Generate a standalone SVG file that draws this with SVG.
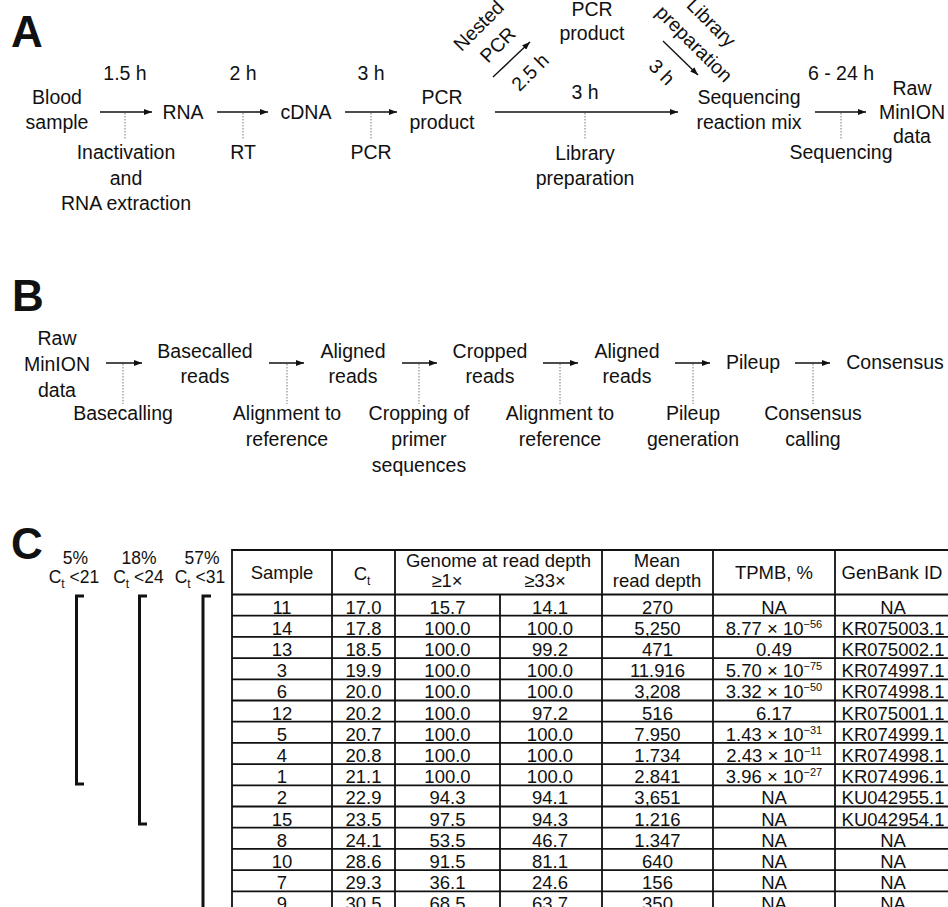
<svg xmlns="http://www.w3.org/2000/svg" width="948" height="907" viewBox="0 0 948 907">
<defs>
<marker id="ah" markerUnits="userSpaceOnUse" markerWidth="8" markerHeight="6" refX="8" refY="3" orient="auto">
<path d="M0,0 L8,3 L0,6 z" fill="#111"/>
</marker>
<style>
text{font-family:"Liberation Sans",Arial,sans-serif;fill:#111}
.t{font-size:19.5px;text-anchor:middle}
.c{font-size:18.5px;text-anchor:middle}
.bl{font-size:17.5px;text-anchor:middle}
.sup{font-size:11px}
.sub{font-size:12px}
.big{font-size:44px;font-weight:bold}
.arr{stroke:#111;stroke-width:1.4;fill:none;marker-end:url(#ah)}
.dot{stroke:#777;stroke-width:1;stroke-dasharray:1.5 1.5;fill:none}
.grid{stroke:#111;stroke-width:1.8;fill:none}
.br{stroke:#111;stroke-width:3;fill:none}
</style>
</defs>
<rect width="948" height="907" fill="#fff"/>

<!-- Panel labels -->
<text class="big" x="11" y="47">A</text>
<text class="big" x="12" y="311">B</text>
<text class="big" x="11" y="559">C</text>

<!-- ===== Panel A ===== -->
<g id="a-blood"><text class="t" x="57" y="104">Blood</text><text class="t" x="57" y="129">sample</text></g>
<g id="a-rna"><text class="t" x="183" y="119">RNA</text></g>
<g id="a-cdna"><text class="t" x="306" y="119">cDNA</text></g>
<g id="a-pcr"><text class="t" x="442" y="104">PCR</text><text class="t" x="442" y="129">product</text></g>
<g id="a-pcr2"><text class="t" x="592" y="16">PCR</text><text class="t" x="592" y="40">product</text></g>
<g id="a-seqmix"><text class="t" x="749" y="104">Sequencing</text><text class="t" x="749" y="129">reaction mix</text></g>
<g id="a-raw"><text class="t" x="912" y="95">Raw</text><text class="t" x="912" y="119">MinION</text><text class="t" x="912" y="143">data</text></g>

<g id="connectors-a">
<line class="arr" x1="100" y1="112" x2="152" y2="112"/>
<line class="dot" x1="125" y1="113" x2="125" y2="140"/>
<line class="arr" x1="217" y1="112" x2="268" y2="112"/>
<line class="dot" x1="243" y1="113" x2="243" y2="140"/>
<line class="arr" x1="345" y1="112" x2="397" y2="112"/>
<line class="dot" x1="371" y1="113" x2="371" y2="140"/>
<line class="arr" x1="495" y1="112" x2="678" y2="112"/>
<line class="dot" x1="585" y1="113" x2="585" y2="140"/>
<line class="arr" x1="493" y1="77" x2="530" y2="42"/>
<line class="arr" x1="663" y1="41" x2="698" y2="75"/>
<line class="arr" x1="815" y1="112" x2="866" y2="112"/>
<line class="dot" x1="841" y1="113" x2="841" y2="140"/>
</g>

<g id="a-labels">
<text class="t" x="125" y="80">1.5 h</text>
<text class="t" x="126" y="159">Inactivation</text>
<text class="t" x="126" y="185">and</text>
<text class="t" x="126" y="210">RNA extraction</text>
<text class="t" x="243" y="80">2 h</text>
<text class="t" x="243" y="159">RT</text>
<text class="t" x="371" y="80">3 h</text>
<text class="t" x="371" y="159">PCR</text>
<text class="t" x="585" y="99">3 h</text>
<text class="t" x="585" y="160">Library</text>
<text class="t" x="585" y="185">preparation</text>
<g transform="translate(488,35) rotate(-45)"><text class="t" x="0" y="-6.5">Nested</text><text class="t" x="0" y="20.5">PCR</text></g>
<g transform="translate(530,72) rotate(-45)"><text class="t" x="0" y="7">2.5 h</text></g>
<g transform="translate(703,33) rotate(45)"><text class="t" x="-1.4" y="-6.5">Library</text><text class="t" x="1.4" y="20.5">preparation</text></g>
<g transform="translate(662,72) rotate(45)"><text class="t" x="0" y="7">3 h</text></g>
<text class="t" x="841" y="80">6 - 24 h</text>
<text class="t" x="841" y="159">Sequencing</text>
</g>

<!-- ===== Panel B ===== -->
<g id="b-raw"><text class="t" x="57" y="345">Raw</text><text class="t" x="57" y="371">MinION</text><text class="t" x="57" y="397">data</text></g>
<g id="b-basecalled"><text class="t" x="205" y="358">Basecalled</text><text class="t" x="205" y="383">reads</text></g>
<g id="b-aligned1"><text class="t" x="353" y="358">Aligned</text><text class="t" x="353" y="383">reads</text></g>
<g id="b-cropped"><text class="t" x="490" y="358">Cropped</text><text class="t" x="490" y="383">reads</text></g>
<g id="b-aligned2"><text class="t" x="627" y="358">Aligned</text><text class="t" x="627" y="383">reads</text></g>
<g id="b-pileup"><text class="t" x="753" y="369">Pileup</text></g>
<g id="b-consensus"><text class="t" x="895" y="369">Consensus</text></g>

<g id="connectors-b">
<line class="arr" x1="106" y1="363" x2="142" y2="363"/>
<line class="dot" x1="123" y1="364" x2="123" y2="404"/>
<line class="arr" x1="269" y1="363" x2="304" y2="363"/>
<line class="dot" x1="287" y1="364" x2="287" y2="404"/>
<line class="arr" x1="402" y1="363" x2="437" y2="363"/>
<line class="dot" x1="419" y1="364" x2="419" y2="404"/>
<line class="arr" x1="543" y1="363" x2="578" y2="363"/>
<line class="dot" x1="560" y1="364" x2="560" y2="404"/>
<line class="arr" x1="675" y1="363" x2="710" y2="363"/>
<line class="dot" x1="693" y1="364" x2="693" y2="404"/>
<line class="arr" x1="795" y1="363" x2="830" y2="363"/>
<line class="dot" x1="813" y1="364" x2="813" y2="404"/>
</g>

<g id="b-labels">
<text class="t" x="123" y="420">Basecalling</text>
<text class="t" x="287" y="420">Alignment to</text>
<text class="t" x="287" y="446">reference</text>
<text class="t" x="419" y="420">Cropping of</text>
<text class="t" x="419" y="446">primer</text>
<text class="t" x="419" y="472">sequences</text>
<text class="t" x="560" y="420">Alignment to</text>
<text class="t" x="560" y="446">reference</text>
<text class="t" x="693" y="420">Pileup</text>
<text class="t" x="693" y="446">generation</text>
<text class="t" x="813" y="420">Consensus</text>
<text class="t" x="813" y="446">calling</text>
</g>

<!-- ===== Panel C ===== -->
<g id="c-brackets">
<text class="bl" x="75.5" y="564">5%</text>
<text class="bl" x="74" y="583">C<tspan class="sub" dy="5">t</tspan><tspan dy="-5"> &lt;21</tspan></text>
<path class="br" d="M84,596 H76.5 V784 H84"/>
<text class="bl" x="139" y="564">18%</text>
<text class="bl" x="138.5" y="583">C<tspan class="sub" dy="5">t</tspan><tspan dy="-5"> &lt;24</tspan></text>
<path class="br" d="M147,596 H139.5 V824 H147"/>
<text class="bl" x="202" y="564">57%</text>
<text class="bl" x="200" y="583">C<tspan class="sub" dy="5">t</tspan><tspan dy="-5"> &lt;31</tspan></text>
<path class="br" d="M211,596 H203 V910"/>
</g>

<g id="c-table-grid">
<path class="grid" d="M232,550 H948 M232,594.5 H948 M232,615.7 H948 M232,636.9 H948 M232,658.1 H948 M232,679.3 H948 M232,700.5 H948 M232,721.7 H948 M232,742.9 H948 M232,764.1 H948 M232,785.3 H948 M232,806.5 H948 M232,827.7 H948 M232,848.9 H948 M232,870.1 H948 M232,891.3 H948"/>
<path class="grid" d="M232,549 V907 M332,550 V907 M395,550 V907 M500,594.5 V907 M602,550 V907 M713,550 V907 M835,550 V907"/>
</g>

<g id="c-table-header">
<text class="c" x="282" y="579">Sample</text>
<text class="c" x="362" y="580">C<tspan class="sub" dy="5">t</tspan></text>
<text class="c" x="498.5" y="567">Genome at read depth</text>
<text class="c" x="447" y="587">≥1×</text>
<text class="c" x="545" y="587">≥33×</text>
<text class="c" x="657" y="567">Mean</text>
<text class="c" x="657" y="587">read depth</text>
<text class="c" x="774" y="579">TPMB, %</text>
<text class="c" x="892" y="579">GenBank ID</text>
</g>

<g id="c-table-rows">
<g id="row-11"><text class="c" x="282" y="613.5">11</text><text class="c" x="363.5" y="613.5">17.0</text><text class="c" x="447.5" y="613.5">15.7</text><text class="c" x="550" y="613.5">14.1</text><text class="c" x="657.5" y="613.5">270</text><text class="c" x="774" y="613.5">NA</text><text class="c" x="893" y="613.5">NA</text></g>
<g id="row-14"><text class="c" x="282" y="634.7">14</text><text class="c" x="363.5" y="634.7">17.8</text><text class="c" x="447.5" y="634.7">100.0</text><text class="c" x="550" y="634.7">100.0</text><text class="c" x="657.5" y="634.7">5,250</text><text class="c" x="774" y="634.7">8.77 × 10<tspan class="sup" dy="-7">−56</tspan></text><text class="c" x="893" y="634.7">KR075003.1</text></g>
<g id="row-13"><text class="c" x="282" y="655.9">13</text><text class="c" x="363.5" y="655.9">18.5</text><text class="c" x="447.5" y="655.9">100.0</text><text class="c" x="550" y="655.9">99.2</text><text class="c" x="657.5" y="655.9">471</text><text class="c" x="774" y="655.9">0.49</text><text class="c" x="893" y="655.9">KR075002.1</text></g>
<g id="row-3"><text class="c" x="282" y="677.1">3</text><text class="c" x="363.5" y="677.1">19.9</text><text class="c" x="447.5" y="677.1">100.0</text><text class="c" x="550" y="677.1">100.0</text><text class="c" x="657.5" y="677.1">11.916</text><text class="c" x="774" y="677.1">5.70 × 10<tspan class="sup" dy="-7">−75</tspan></text><text class="c" x="893" y="677.1">KR074997.1</text></g>
<g id="row-6"><text class="c" x="282" y="698.3">6</text><text class="c" x="363.5" y="698.3">20.0</text><text class="c" x="447.5" y="698.3">100.0</text><text class="c" x="550" y="698.3">100.0</text><text class="c" x="657.5" y="698.3">3,208</text><text class="c" x="774" y="698.3">3.32 × 10<tspan class="sup" dy="-7">−50</tspan></text><text class="c" x="893" y="698.3">KR074998.1</text></g>
<g id="row-12"><text class="c" x="282" y="719.5">12</text><text class="c" x="363.5" y="719.5">20.2</text><text class="c" x="447.5" y="719.5">100.0</text><text class="c" x="550" y="719.5">97.2</text><text class="c" x="657.5" y="719.5">516</text><text class="c" x="774" y="719.5">6.17</text><text class="c" x="893" y="719.5">KR075001.1</text></g>
<g id="row-5"><text class="c" x="282" y="740.7">5</text><text class="c" x="363.5" y="740.7">20.7</text><text class="c" x="447.5" y="740.7">100.0</text><text class="c" x="550" y="740.7">100.0</text><text class="c" x="657.5" y="740.7">7.950</text><text class="c" x="774" y="740.7">1.43 × 10<tspan class="sup" dy="-7">−31</tspan></text><text class="c" x="893" y="740.7">KR074999.1</text></g>
<g id="row-4"><text class="c" x="282" y="761.9">4</text><text class="c" x="363.5" y="761.9">20.8</text><text class="c" x="447.5" y="761.9">100.0</text><text class="c" x="550" y="761.9">100.0</text><text class="c" x="657.5" y="761.9">1.734</text><text class="c" x="774" y="761.9">2.43 × 10<tspan class="sup" dy="-7">−11</tspan></text><text class="c" x="893" y="761.9">KR074998.1</text></g>
<g id="row-1"><text class="c" x="282" y="783.1">1</text><text class="c" x="363.5" y="783.1">21.1</text><text class="c" x="447.5" y="783.1">100.0</text><text class="c" x="550" y="783.1">100.0</text><text class="c" x="657.5" y="783.1">2.841</text><text class="c" x="774" y="783.1">3.96 × 10<tspan class="sup" dy="-7">−27</tspan></text><text class="c" x="893" y="783.1">KR074996.1</text></g>
<g id="row-2"><text class="c" x="282" y="804.3">2</text><text class="c" x="363.5" y="804.3">22.9</text><text class="c" x="447.5" y="804.3">94.3</text><text class="c" x="550" y="804.3">94.1</text><text class="c" x="657.5" y="804.3">3,651</text><text class="c" x="774" y="804.3">NA</text><text class="c" x="893" y="804.3">KU042955.1</text></g>
<g id="row-15"><text class="c" x="282" y="825.5">15</text><text class="c" x="363.5" y="825.5">23.5</text><text class="c" x="447.5" y="825.5">97.5</text><text class="c" x="550" y="825.5">94.3</text><text class="c" x="657.5" y="825.5">1.216</text><text class="c" x="774" y="825.5">NA</text><text class="c" x="893" y="825.5">KU042954.1</text></g>
<g id="row-8"><text class="c" x="282" y="846.7">8</text><text class="c" x="363.5" y="846.7">24.1</text><text class="c" x="447.5" y="846.7">53.5</text><text class="c" x="550" y="846.7">46.7</text><text class="c" x="657.5" y="846.7">1.347</text><text class="c" x="774" y="846.7">NA</text><text class="c" x="893" y="846.7">NA</text></g>
<g id="row-10"><text class="c" x="282" y="867.9">10</text><text class="c" x="363.5" y="867.9">28.6</text><text class="c" x="447.5" y="867.9">91.5</text><text class="c" x="550" y="867.9">81.1</text><text class="c" x="657.5" y="867.9">640</text><text class="c" x="774" y="867.9">NA</text><text class="c" x="893" y="867.9">NA</text></g>
<g id="row-7"><text class="c" x="282" y="889.1">7</text><text class="c" x="363.5" y="889.1">29.3</text><text class="c" x="447.5" y="889.1">36.1</text><text class="c" x="550" y="889.1">24.6</text><text class="c" x="657.5" y="889.1">156</text><text class="c" x="774" y="889.1">NA</text><text class="c" x="893" y="889.1">NA</text></g>
<g id="row-9"><text class="c" x="282" y="910.3">9</text><text class="c" x="363.5" y="910.3">30.5</text><text class="c" x="447.5" y="910.3">68.5</text><text class="c" x="550" y="910.3">63.7</text><text class="c" x="657.5" y="910.3">350</text><text class="c" x="774" y="910.3">NA</text><text class="c" x="893" y="910.3">NA</text></g>
</g>
</svg>
